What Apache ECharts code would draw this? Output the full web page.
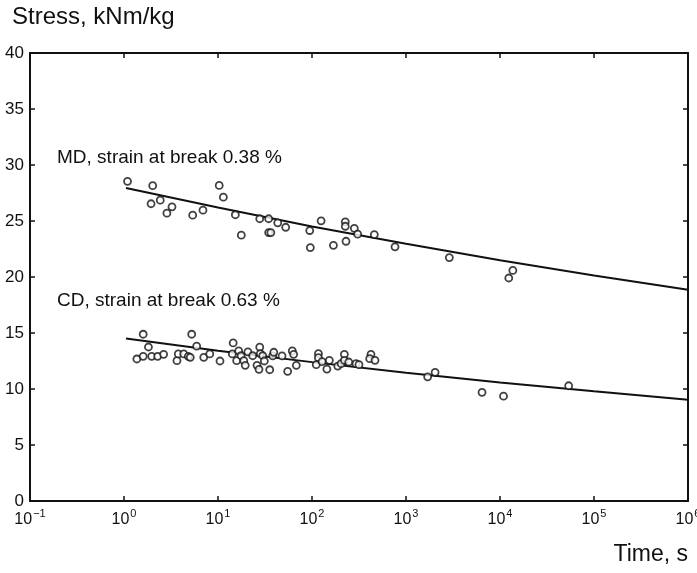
<!DOCTYPE html>
<html>
<head>
<meta charset="utf-8">
<script src="https://cdn.jsdelivr.net/npm/echarts@6/dist/echarts.min.js"></script>
<style>html,body{margin:0;padding:0;background:#fff;overflow:hidden}#c{width:697px;height:573px}</style>
</head>
<body>
<div id="c"></div>
<script>
// ---- data (time in s, stress in kNm/kg) ----
var mdTime = [1.09, 2.02, 1.94, 2.43, 2.86, 3.24, 5.38, 6.92, 10.3, 11.4, 15.3, 17.7, 27.8, 34.6, 34.6, 36.5, 43.2, 52.5, 94.6, 96, 125, 169, 226, 226, 230, 282, 306, 460, 764, 2890, 13700, 12400];
var mdStress = [28.54, 28.15, 26.54, 26.86, 25.70, 26.27, 25.52, 25.97, 28.18, 27.13, 25.56, 23.73, 25.20, 25.20, 23.97, 23.97, 24.84, 24.44, 24.15, 22.63, 25.02, 22.83, 24.93, 24.53, 23.19, 24.35, 23.82, 23.79, 22.69, 21.73, 20.59, 19.91];

var cdTime = [1.60, 1.82, 1.37, 1.60, 1.97, 2.28, 2.64, 3.66, 3.78, 4.32, 4.83, 5.07, 5.25, 5.93, 7.05, 8.17, 10.5, 14.5, 14.2, 15.8, 16.6, 17.6, 18.8, 19.5, 20.8, 23.4, 26.0, 27.3, 27.8, 28.2, 29.9, 31.1, 35.5, 38.2, 39.2, 48.0, 55.1, 61.7, 63.8, 68.1, 117, 117, 111, 128, 144, 153, 188, 204, 221, 221, 246, 294, 316, 424, 411, 468, 1700, 2040, 6440, 10900, 53800];
var cdStress = [14.89, 13.75, 12.68, 12.92, 12.92, 12.92, 13.10, 12.53, 13.13, 13.13, 12.92, 12.83, 14.89, 13.82, 12.83, 13.13, 12.50, 14.11, 13.13, 12.53, 13.40, 12.97, 12.53, 12.11, 13.31, 12.97, 12.11, 11.76, 13.73, 13.15, 12.97, 12.50, 11.72, 12.95, 13.28, 12.95, 11.58, 13.40, 13.10, 12.11, 13.15, 12.80, 12.17, 12.44, 11.78, 12.56, 12.05, 12.26, 13.10, 12.56, 12.41, 12.26, 12.17, 13.10, 12.71, 12.56, 11.09, 11.49, 9.70, 9.36, 10.29];

var fitTime = [1.05, 10, 100, 1000, 10000, 100000, 1000000];
var mdFit = [27.95, 26.2, 24.5, 22.97, 21.5, 20.14, 18.87];
var cdFit = [14.50, 13.42, 12.40, 11.46, 10.59, 9.79, 9.05];

var yTicks = [0, 5, 10, 15, 20, 25, 30, 35, 40];
var xLabelExponents = [-1, 0, 1, 2, 3, 4, 5, 6];

var mdLabel = 'MD, strain at break 0.38 %';
var cdLabel = 'CD, strain at break 0.63 %';
var yTitle = 'Stress, kNm/kg';
var xTitle = 'Time, s';

function zip(a, b) { return a.map(function (v, i) { return [v, b[i]]; }); }

var FONT = '"Liberation Sans", Arial, Helvetica, sans-serif';
var INK = '#111';

var chart = echarts.init(document.getElementById('c'), null, { renderer: 'canvas', width: 697, height: 573 });

var baseX = {
  type: 'log', logBase: 10, min: 0.1, max: 1000000, interval: 1,
  axisLine: { show: true, onZero: false, lineStyle: { color: INK, width: 2 } },
  axisTick: { show: true, inside: true, length: 5, lineStyle: { color: INK, width: 1.5 } },
  splitLine: { show: false }, minorTick: { show: false }
};
var baseY = {
  type: 'value', min: yTicks[0], max: yTicks[yTicks.length - 1], interval: 5,
  axisLine: { show: true, onZero: false, lineStyle: { color: INK, width: 2 } },
  axisTick: { show: true, inside: true, length: 5, lineStyle: { color: INK, width: 1.5 } },
  splitLine: { show: false }
};

var scatterStyle = { color: '#fff', borderColor: INK, borderWidth: 1.8 };

chart.setOption({
  animation: false,
  backgroundColor: '#fff',
  grid: { left: 30, right: 9, top: 53, bottom: 72, containLabel: false, outerBoundsMode: 'none' },
  xAxis: [
    Object.assign({}, baseX, {
      position: 'bottom',
      axisLabel: {
        show: true, margin: 7, color: INK, hideOverlap: false,
        formatter: function (v) {
          var e = Math.round(Math.log(v) / Math.LN10);
          if (xLabelExponents.indexOf(e) < 0) return '';
          return '{b|10}{s|' + (e < 0 ? '\u2212' + (-e) : e) + '}';
        },
        rich: {
          b: { fontFamily: FONT, fontSize: 16, color: INK, lineHeight: 20, verticalAlign: 'bottom' },
          s: { fontFamily: FONT, fontSize: 11, color: INK, lineHeight: 20, verticalAlign: 'top', padding: [0, 0, 0, 1] }
        }
      }
    }),
    Object.assign({}, baseX, { position: 'top', axisLabel: { show: false } })
  ],
  yAxis: [
    Object.assign({}, baseY, {
      position: 'left',
      axisLabel: { show: true, margin: 6, color: INK, fontFamily: FONT, fontSize: 17 }
    }),
    Object.assign({}, baseY, { position: 'right', axisLabel: { show: false } })
  ],
  graphic: [
    { type: 'text', left: 12, top: 5, style: { text: yTitle, font: '24px ' + FONT, fill: INK } },
    { type: 'text', right: 9, top: 543, style: { text: xTitle, font: '23px ' + FONT, fill: INK } },
    { type: 'text', left: 57, top: 148, style: { text: mdLabel, font: '19px ' + FONT, fill: INK } },
    { type: 'text', left: 57, top: 291, style: { text: cdLabel, font: '19px ' + FONT, fill: INK } }
  ],
  series: [
    { type: 'line', data: zip(fitTime, mdFit), symbol: 'none', lineStyle: { color: INK, width: 2 }, z: 2 },
    { type: 'line', data: zip(fitTime, cdFit), symbol: 'none', lineStyle: { color: INK, width: 2 }, z: 2 },
    { type: 'scatter', data: zip(mdTime, mdStress), symbol: 'circle', symbolSize: 7, itemStyle: scatterStyle, z: 3 },
    { type: 'scatter', data: zip(cdTime, cdStress), symbol: 'circle', symbolSize: 7, itemStyle: scatterStyle, z: 3 }
  ]
});
</script>
</body>
</html>
